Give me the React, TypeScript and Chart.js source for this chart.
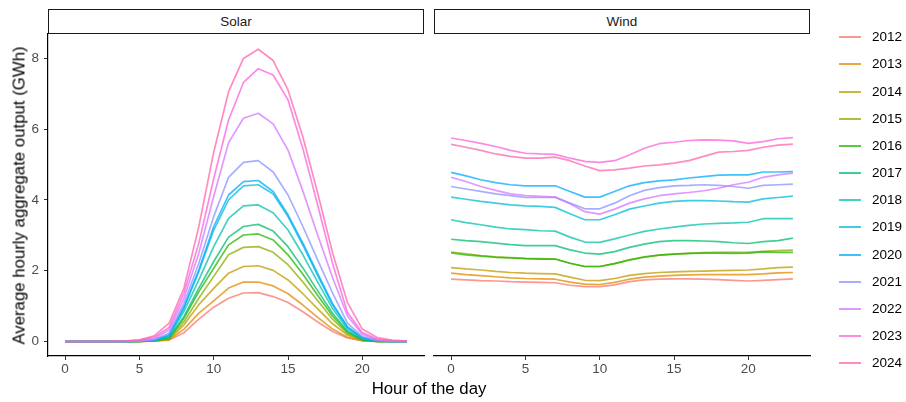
import React, { useEffect, useRef } from "react";
import { Chart, registerables } from "chart.js";
Chart.register(...registerables);

const hours = [0, 1, 2, 3, 4, 5, 6, 7, 8, 9, 10, 11, 12, 13, 14, 15, 16, 17, 18, 19, 20, 21, 22, 23];
const years = ["2012", "2013", "2014", "2015", "2016", "2017", "2018", "2019", "2020", "2021", "2022", "2023", "2024"];
const colors = ["#F8766D", "#E18A00", "#BE9C00", "#8CAB00", "#24B700", "#00BE70", "#00C1AB", "#00BBDA", "#00ACFC", "#8B93FF", "#D575FE", "#F962DD", "#FF65AC"];
const xTicks = [0, 5, 10, 15, 20];
const yTicks = [0, 2, 4, 6, 8];

const solar2012 = [0, 0, 0, 0, 0, 0, 0.01, 0.04, 0.25, 0.63, 0.97, 1.22, 1.37, 1.38, 1.27, 1.1, 0.84, 0.55, 0.28, 0.1, 0.02, 0, 0, 0];
const solar2013 = [0, 0, 0, 0, 0, 0, 0.02, 0.05, 0.35, 0.8, 1.15, 1.51, 1.68, 1.68, 1.57, 1.35, 1.03, 0.68, 0.35, 0.12, 0.02, 0, 0, 0];
const solar2014 = [0, 0, 0, 0, 0, 0, 0.02, 0.06, 0.47, 1.04, 1.5, 1.93, 2.12, 2.14, 2.01, 1.74, 1.35, 0.92, 0.5, 0.18, 0.03, 0, 0, 0];
const solar2015 = [0, 0, 0, 0, 0, 0, 0.02, 0.08, 0.56, 1.22, 1.84, 2.45, 2.66, 2.68, 2.52, 2.17, 1.68, 1.15, 0.63, 0.22, 0.04, 0, 0, 0];
const solar2016 = [0, 0, 0, 0, 0, 0, 0.02, 0.1, 0.66, 1.41, 2.07, 2.73, 3.01, 3.04, 2.87, 2.45, 1.9, 1.3, 0.72, 0.26, 0.05, 0, 0, 0];
const solar2017 = [0, 0, 0, 0, 0, 0, 0.03, 0.11, 0.71, 1.51, 2.26, 2.95, 3.25, 3.31, 3.12, 2.68, 2.08, 1.43, 0.8, 0.29, 0.06, 0, 0, 0];
const solar2018 = [0, 0, 0, 0, 0, 0, 0.03, 0.14, 0.85, 1.74, 2.68, 3.48, 3.83, 3.86, 3.64, 3.15, 2.45, 1.68, 0.93, 0.35, 0.08, 0.01, 0, 0];
const solar2019 = [0, 0, 0, 0, 0, 0.01, 0.03, 0.17, 0.94, 1.98, 3.15, 4.0, 4.4, 4.43, 4.17, 3.53, 2.72, 1.86, 1.03, 0.4, 0.1, 0.01, 0, 0];
const solar2020 = [0, 0, 0, 0, 0, 0.01, 0.04, 0.19, 0.99, 2.02, 3.25, 4.14, 4.52, 4.55, 4.24, 3.58, 2.78, 1.92, 1.07, 0.42, 0.11, 0.02, 0, 0];
const solar2021 = [0, 0, 0, 0, 0, 0.01, 0.05, 0.24, 1.08, 2.21, 3.53, 4.64, 5.06, 5.11, 4.79, 4.14, 3.25, 2.3, 1.37, 0.52, 0.14, 0.03, 0, 0];
const solar2022 = [0, 0, 0, 0, 0, 0.02, 0.08, 0.33, 1.22, 2.5, 4.1, 5.62, 6.31, 6.45, 6.15, 5.41, 4.25, 3.0, 1.8, 0.72, 0.2, 0.05, 0.01, 0];
const solar2023 = [0, 0, 0, 0, 0.01, 0.04, 0.12, 0.4, 1.37, 2.78, 4.6, 6.26, 7.32, 7.71, 7.53, 6.83, 5.45, 3.85, 2.2, 0.82, 0.25, 0.07, 0.02, 0];
const solar2024 = [0, 0, 0, 0, 0.01, 0.05, 0.16, 0.52, 1.51, 3.25, 5.35, 7.06, 8.0, 8.26, 7.94, 7.11, 5.78, 4.19, 2.5, 1.1, 0.35, 0.11, 0.04, 0.01];

const wind2012 = [1.76, 1.74, 1.72, 1.71, 1.69, 1.68, 1.67, 1.66, 1.59, 1.55, 1.55, 1.6, 1.69, 1.74, 1.76, 1.77, 1.77, 1.76, 1.75, 1.73, 1.71, 1.73, 1.75, 1.77];
const wind2013 = [1.93, 1.89, 1.86, 1.83, 1.8, 1.78, 1.77, 1.76, 1.68, 1.62, 1.61, 1.67, 1.76, 1.82, 1.85, 1.87, 1.88, 1.89, 1.89, 1.89, 1.89, 1.91, 1.94, 1.95];
const wind2014 = [2.09, 2.05, 2.02, 1.98, 1.95, 1.93, 1.92, 1.91, 1.82, 1.73, 1.72, 1.78, 1.87, 1.92, 1.95, 1.97, 1.98, 1.99, 2.0, 2.01, 2.02, 2.05, 2.09, 2.1];
const wind2015 = [2.53, 2.48, 2.43, 2.39, 2.37, 2.35, 2.34, 2.33, 2.21, 2.12, 2.12, 2.2, 2.3, 2.38, 2.44, 2.47, 2.49, 2.51, 2.52, 2.52, 2.52, 2.55, 2.57, 2.58];
const wind2016 = [2.5, 2.45, 2.41, 2.38, 2.36, 2.34, 2.33, 2.33, 2.21, 2.12, 2.12, 2.2, 2.31, 2.39, 2.44, 2.47, 2.49, 2.5, 2.5, 2.49, 2.5, 2.53, 2.52, 2.52];
const wind2017 = [2.89, 2.85, 2.82, 2.78, 2.74, 2.71, 2.71, 2.71, 2.59, 2.5, 2.47, 2.54, 2.66, 2.75, 2.82, 2.85, 2.85, 2.84, 2.82, 2.79, 2.77, 2.82, 2.85, 2.92];
const wind2018 = [3.44, 3.36, 3.3, 3.23, 3.18, 3.16, 3.13, 3.12, 2.95, 2.81, 2.8, 2.9, 3.01, 3.11, 3.18, 3.23, 3.28, 3.32, 3.34, 3.35, 3.37, 3.47, 3.47, 3.47];
const wind2019 = [4.08, 4.02, 3.96, 3.91, 3.86, 3.83, 3.82, 3.79, 3.61, 3.44, 3.44, 3.58, 3.74, 3.83, 3.91, 3.96, 3.98, 3.98, 3.97, 3.95, 3.94, 4.03, 4.07, 4.11];
const wind2020 = [4.78, 4.68, 4.57, 4.49, 4.43, 4.4, 4.4, 4.4, 4.24, 4.08, 4.08, 4.24, 4.4, 4.49, 4.54, 4.57, 4.62, 4.66, 4.7, 4.71, 4.71, 4.79, 4.79, 4.8];
const wind2021 = [4.38, 4.31, 4.24, 4.17, 4.12, 4.07, 4.07, 4.08, 3.91, 3.75, 3.75, 3.91, 4.12, 4.27, 4.35, 4.4, 4.41, 4.43, 4.41, 4.38, 4.33, 4.41, 4.43, 4.45];
const wind2022 = [4.64, 4.52, 4.38, 4.27, 4.17, 4.12, 4.1, 4.08, 3.89, 3.67, 3.6, 3.74, 3.91, 4.03, 4.12, 4.17, 4.21, 4.26, 4.33, 4.43, 4.5, 4.64, 4.71, 4.76];
const wind2023 = [5.75, 5.68, 5.6, 5.51, 5.4, 5.32, 5.3, 5.29, 5.18, 5.09, 5.06, 5.11, 5.27, 5.46, 5.59, 5.63, 5.68, 5.7, 5.69, 5.67, 5.6, 5.65, 5.73, 5.76];
const wind2024 = [5.57, 5.49, 5.4, 5.3, 5.23, 5.18, 5.18, 5.21, 5.11, 4.96, 4.83, 4.85, 4.9, 4.96, 4.99, 5.04, 5.11, 5.23, 5.35, 5.37, 5.4, 5.49, 5.55, 5.58];

const solarSeries = [solar2012, solar2013, solar2014, solar2015, solar2016, solar2017, solar2018, solar2019, solar2020, solar2021, solar2022, solar2023, solar2024];
const windSeries = [wind2012, wind2013, wind2014, wind2015, wind2016, wind2017, wind2018, wind2019, wind2020, wind2021, wind2022, wind2023, wind2024];

const FONT = "'Liberation Sans', Arial, Helvetica, sans-serif";
const W = 906;
const H = 402;
const PANEL_TOP = 34;
const PANEL_BOTTOM = 356;
const SOLAR_LEFT = 48;
const SOLAR_RIGHT = 424;
const WIND_LEFT = 434;
const WIND_RIGHT = 810;
const X_AXIS_H = 30;
const LINE_ALPHA = 0.75;

function withAlpha(hex: string, a: number) {
  const r = parseInt(hex.slice(1, 3), 16);
  const g = parseInt(hex.slice(3, 5), 16);
  const b = parseInt(hex.slice(5, 7), 16);
  return `rgba(${r},${g},${b},${a})`;
}

function buildConfig(series: number[][], left: number, right: number, showY: boolean): any {
  const datasets = series.map((vals, i) => ({
    label: years[i],
    data: hours.map((h, j) => ({ x: h, y: vals[j] })),
    borderColor: withAlpha(colors[i], LINE_ALPHA),
    backgroundColor: withAlpha(colors[i], LINE_ALPHA),
    borderWidth: 1.7,
    pointRadius: 0,
    tension: 0,
    fill: false,
    order: years.length - i,
    borderJoinStyle: "round",
  }));
  const tickFont = { family: FONT, size: 13.5 };
  return {
    type: "line",
    data: { datasets },
    options: {
      animation: false,
      responsive: false,
      devicePixelRatio: 1,
      events: [],
      layout: {
        padding: {
          left: showY ? 0 : left,
          right: W - right,
          top: PANEL_TOP,
          bottom: H - PANEL_BOTTOM - X_AXIS_H,
        },
      },
      plugins: { legend: { display: false }, tooltip: { enabled: false }, title: { display: false } },
      scales: {
        x: {
          type: "linear",
          min: -1.15,
          max: 24.15,
          afterFit: (s: any) => {
            s.height = X_AXIS_H;
          },
          afterBuildTicks: (s: any) => {
            s.ticks = xTicks.map((v) => ({ value: v }));
          },
          grid: { display: true, drawOnChartArea: false, drawTicks: true, tickLength: 4, tickColor: "#333333", tickWidth: 1 },
          border: { display: true, color: "#000000", width: 1.2 },
          ticks: { color: "#4D4D4D", font: tickFont, padding: 1, maxRotation: 0, autoSkip: false },
        },
        y: {
          type: "linear",
          display: showY,
          min: -0.41,
          max: 8.69,
          afterFit: (s: any) => {
            if (showY) s.width = left;
          },
          afterBuildTicks: (s: any) => {
            s.ticks = yTicks.map((v) => ({ value: v }));
          },
          grid: { display: true, drawOnChartArea: false, drawTicks: true, tickLength: 4, tickColor: "#333333", tickWidth: 1 },
          border: { display: true, color: "#000000", width: 1.2 },
          ticks: { color: "#4D4D4D", font: tickFont, padding: 5 },
        },
      },
    },
  };
}

function Panel({ series, left, right, showY }: { series: number[][]; left: number; right: number; showY: boolean }) {
  const ref = useRef<HTMLCanvasElement | null>(null);
  useEffect(() => {
    if (!ref.current) return;
    const chart = new Chart(ref.current, buildConfig(series, left, right, showY));
    return () => chart.destroy();
  }, []);
  return (
    <canvas
      ref={ref}
      width={W}
      height={H}
      style={{ position: "absolute", left: 0, top: 0, width: W, height: H }}
    />
  );
}

function Strip({ label, left, right }: { label: string; left: number; right: number }) {
  return (
    <div
      style={{
        position: "absolute",
        left,
        top: 9,
        width: right - left,
        height: PANEL_TOP - 9,
        boxSizing: "border-box",
        border: "1.5px solid #1a1a1a",
        background: "#ffffff",
        display: "flex",
        alignItems: "center",
        justifyContent: "center",
        fontFamily: FONT,
        fontSize: 13.5,
        color: "#1a1a1a",
      }}
    >
      {label}
    </div>
  );
}

export default function App() {
  return (
    <div style={{ position: "absolute", left: 0, top: 0, width: W, height: H, background: "#ffffff", overflow: "hidden" }}>
      <Panel series={solarSeries} left={SOLAR_LEFT} right={SOLAR_RIGHT} showY={true} />
      <Panel series={windSeries} left={WIND_LEFT} right={WIND_RIGHT} showY={false} />
      <Strip label="Solar" left={SOLAR_LEFT} right={SOLAR_RIGHT} />
      <Strip label="Wind" left={WIND_LEFT} right={WIND_RIGHT} />
      <div
        style={{
          position: "absolute",
          left: 19 - 170,
          top: (PANEL_TOP + PANEL_BOTTOM) / 2 - 8.5,
          width: 340,
          height: 17,
          lineHeight: "17px",
          textAlign: "center",
          transform: "rotate(-90deg)",
          transformOrigin: "50% 50%",
          fontFamily: FONT,
          fontSize: 16.8,
          color: "#000000",
          whiteSpace: "nowrap",
        }}
      >
        Average hourly aggregate output (GWh)
      </div>
      <div
        style={{
          position: "absolute",
          left: 429 - 100,
          top: 380,
          width: 200,
          lineHeight: "17px",
          textAlign: "center",
          fontFamily: FONT,
          fontSize: 16.8,
          color: "#000000",
          whiteSpace: "nowrap",
        }}
      >
        Hour of the day
      </div>
      {years.map((y, i) => (
        <div key={y}>
          <div
            style={{
              position: "absolute",
              left: 839,
              top: 37.3 + i * 27.17 - 1,
              width: 22,
              height: 2,
              background: withAlpha(colors[i], LINE_ALPHA),
            }}
          />
          <div
            style={{
              position: "absolute",
              left: 872,
              top: 37.3 + i * 27.17 - 8,
              height: 16,
              lineHeight: "16px",
              fontFamily: FONT,
              fontSize: 13.5,
              color: "#000000",
              whiteSpace: "nowrap",
            }}
          >
            {y}
          </div>
        </div>
      ))}
    </div>
  );
}
